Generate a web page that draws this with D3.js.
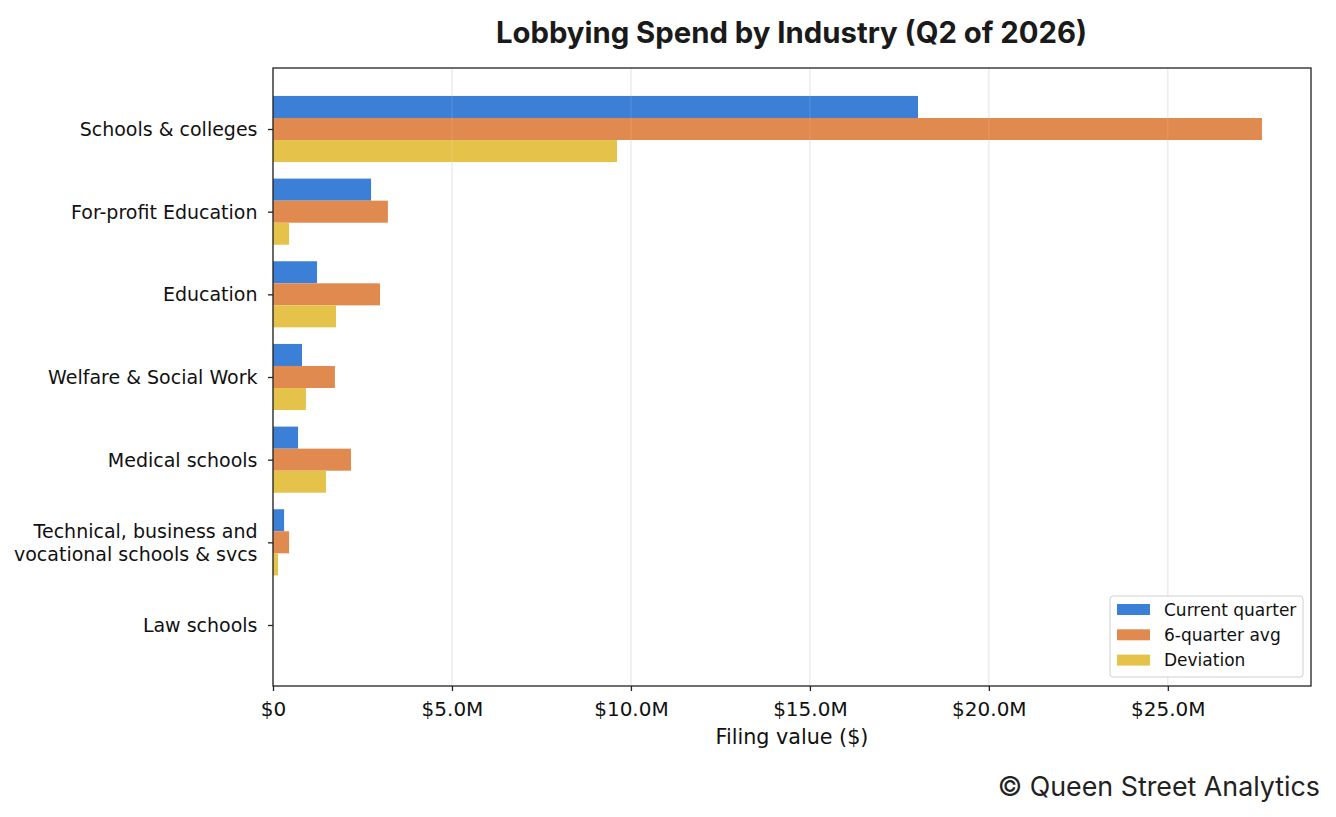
<!DOCTYPE html>
<html><head><meta charset="utf-8">
<script src="https://cdn.jsdelivr.net/npm/d3@7"></script>
<style>body{margin:0;background:#fff}svg{display:block}</style>
</head><body>
<script>
const categories = ["Schools & colleges","For-profit Education","Education","Welfare & Social Work","Medical schools","Technical, business and\nvocational schools & svcs","Law schools"];
const currentQuarter = [18.02, 2.74, 1.23, 0.81, 0.70, 0.31, 0];
const sixQuarterAvg = [27.63, 3.21, 2.99, 1.73, 2.18, 0.45, 0];
const deviation = [9.61, 0.45, 1.76, 0.92, 1.48, 0.14, 0];
const seriesNames = ["Current quarter","6-quarter avg","Deviation"];
const xTicks = [0, 5, 10, 15, 20, 25];
const colors = ["#3b7fd7","#e08a4f","#e5c34a"];
const series = [currentQuarter, sixQuarterAvg, deviation];

const W = 1336, H = 817;
const L = 273, R = 1311, T = 68, B = 686;
const svg = d3.select("body").append("svg").attr("width", W).attr("height", H);
const x = d3.scaleLinear().domain([0, 29.0]).range([L, R]);
const y = d3.scaleLinear().domain([-0.738, categories.length - 1 + 0.738]).range([T, B]);
const step = y(1) - y(0);
const barH = step * 0.8 / 3;

// grid
svg.append("g").selectAll("line").data(xTicks).join("line")
  .attr("x1", d => x(d)).attr("x2", d => x(d)).attr("y1", T).attr("y2", B)
  .attr("stroke", "#e6e6e6").attr("stroke-width", 1.2);

// bars
series.forEach((vals, si) => {
  svg.append("g").selectAll("rect").data(vals).join("rect")
    .attr("x", x(0))
    .attr("y", (d, i) => y(i) - step * 0.4 + si * barH)
    .attr("width", d => x(d) - x(0))
    .attr("height", barH)
    .attr("fill", colors[si]);
});
svg.append("g").selectAll("line").data(xTicks.slice(1)).join("line")
  .attr("x1", d => x(d)).attr("x2", d => x(d)).attr("y1", T).attr("y2", B)
  .attr("stroke", "#ffffff").attr("stroke-opacity", 0.12).attr("stroke-width", 1.2);

// frame
svg.append("rect").attr("x", L).attr("y", T).attr("width", R - L).attr("height", B - T)
  .attr("fill", "none").attr("stroke", "#222").attr("stroke-width", 1.3);

// x axis
const xAxis = d3.axisBottom(x).tickValues(xTicks).tickSize(5).tickPadding(6)
  .tickFormat(d => d === 0 ? "$0" : "$" + d.toFixed(1) + "M");
const gx = svg.append("g").attr("transform", `translate(0,${B})`).call(xAxis);
gx.select(".domain").remove();
gx.selectAll("line").attr("stroke", "#222").attr("stroke-width", 1.3);
gx.selectAll("text").attr("font-family", "DejaVu Sans").attr("font-size", 20).attr("fill", "#111")
  .attr("dy", null).attr("y", 30);

// y axis
const yAxis = d3.axisLeft(y).tickValues(d3.range(categories.length)).tickSize(5).tickFormat("");
const gy = svg.append("g").attr("transform", `translate(${L},0)`).call(yAxis);
gy.select(".domain").remove();
gy.selectAll("line").attr("stroke", "#222").attr("stroke-width", 1.3);
categories.forEach((c, i) => {
  const lines = c.split("\n");
  const t = svg.append("text").attr("text-anchor", "end")
    .attr("font-family", "DejaVu Sans").attr("font-size", 19).attr("fill", "#111");
  const lh = 22.7;
  lines.forEach((ln, j) => {
    t.append("tspan").attr("x", 257.5)
      .attr("y", y(i) + 7 + (j - (lines.length - 1) / 2) * lh).text(ln);
  });
});

// x label
svg.append("text").attr("x", (L + R) / 2).attr("y", 744).attr("text-anchor", "middle")
  .attr("font-family", "DejaVu Sans").attr("font-size", 20.7).attr("fill", "#111").text("Filing value ($)");

// title
svg.append("text").attr("x", 791.5).attr("y", 43).attr("text-anchor", "middle")
  .attr("font-family", "Inter").attr("font-weight", 700).attr("font-size", 29.3).attr("fill", "#1a1a1a")
  .text("Lobbying Spend by Industry (Q2 of 2026)");

// footer
svg.append("text").attr("x", 1320).attr("y", 796).attr("text-anchor", "end")
  .attr("font-family", "Inter").attr("font-size", 26.8).attr("fill", "#222")
  .text("© Queen Street Analytics");

// legend
const lg = svg.append("g");
lg.append("rect").attr("x", 1110).attr("y", 596).attr("width", 193).attr("height", 81)
  .attr("rx", 3).attr("fill", "#fff").attr("fill-opacity", 0.85).attr("stroke", "#d0d0d0").attr("stroke-width", 1);
seriesNames.forEach((n, i) => {
  const cy = 609.5 + i * 25.3;
  lg.append("rect").attr("x", 1117).attr("y", cy - 5.5).attr("width", 33).attr("height", 11).attr("fill", colors[i]);
  lg.append("text").attr("x", 1164).attr("y", cy + 6).attr("font-family", "DejaVu Sans")
    .attr("font-size", 17).attr("fill", "#111").text(n);
});
</script>
</body></html>
